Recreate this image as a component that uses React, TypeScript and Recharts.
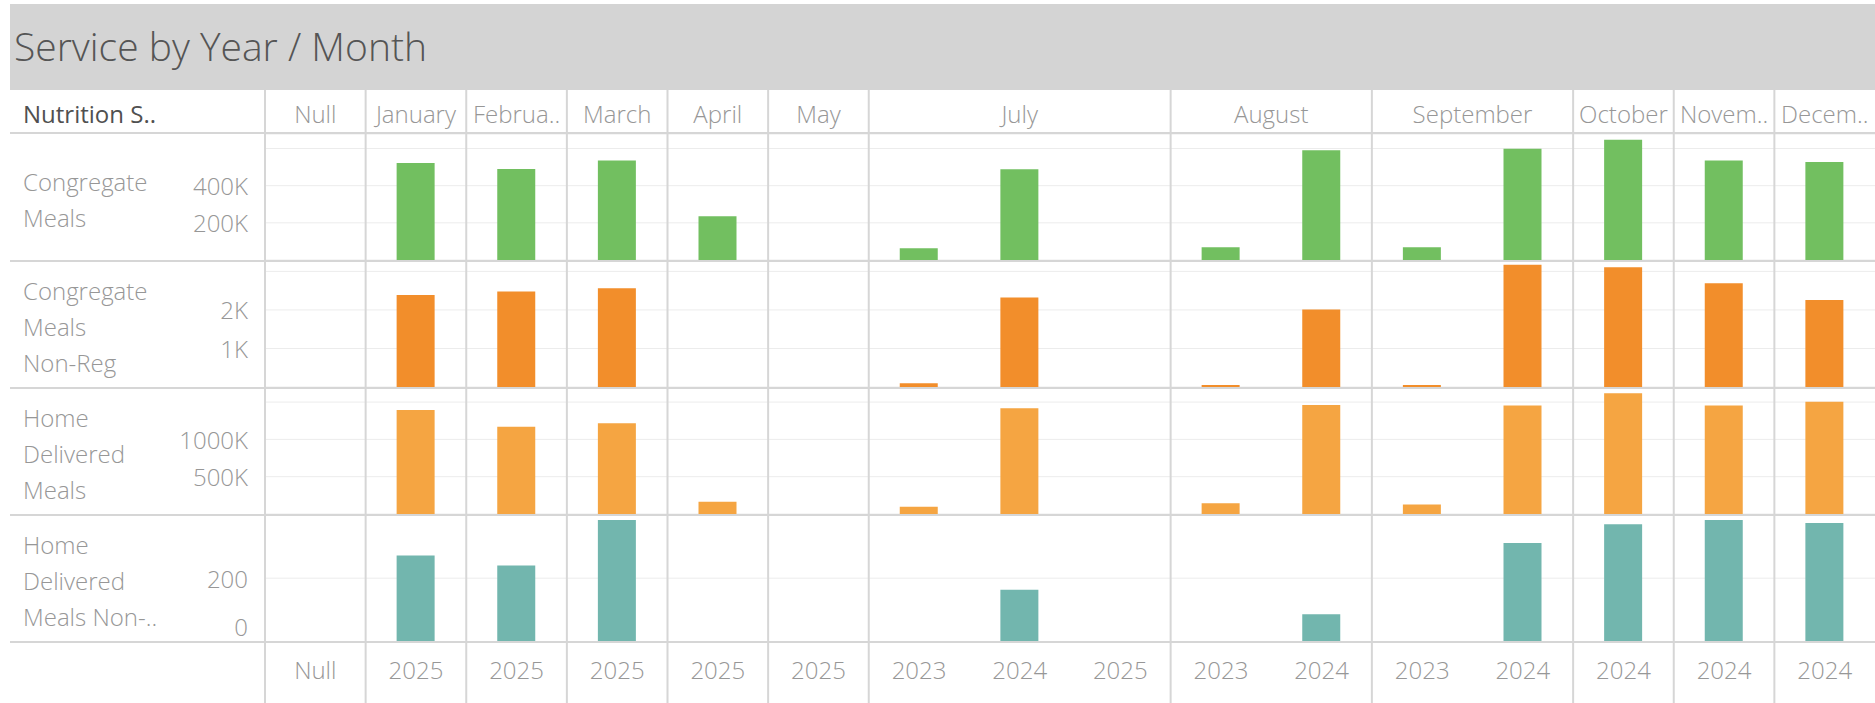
import React from "react";
import { BarChart, Bar, XAxis, YAxis, CartesianGrid } from "recharts";

// one entry per column (month / year)
const columnKeys = [
  "Null", "January 2025", "February 2025", "March 2025", "April 2025", "May 2025",
  "July 2023", "July 2024", "July 2025", "August 2023", "August 2024",
  "September 2023", "September 2024", "October 2024", "November 2024", "December 2024",
];
const yearLabels = [
  "Null", "2025", "2025", "2025", "2025", "2025", "2023", "2024", "2025",
  "2023", "2024", "2023", "2024", "2024", "2024", "2024",
];

// header groups
const monthLabels = ["Null", "January", "Februa..", "March", "April", "May", "July", "August", "September", "October", "Novem..", "Decem.."];
const monthSpans = [1, 1, 1, 1, 1, 1, 3, 2, 2, 1, 1, 1];

// series (null = no bar)
const congregateMeals = [null, 522000, 490000, 536000, 236000, null, 63000, 488000, null, 68000, 590000, 68000, 599000, 647000, 536000, 527000];
const congregateNonReg = [null, 2390, 2480, 2560, null, null, 95, 2320, null, 50, 2010, 50, 3170, 3110, 2690, 2260];
const homeDelivered = [null, 1394000, 1170000, 1216000, 165000, null, 98000, 1417000, null, 143000, 1461000, 126000, 1456000, 1617000, 1456000, 1504000];
const homeDeliveredNonReg = [null, 271, 240, 382, null, null, null, 164, null, null, 87, null, 310, 369, 382, 373];

// axis ticks and their labels
const congregateTicks = [0, 200000, 400000, 600000];
const congregateTickLabels = ["", "200K", "400K", ""];
const nonRegTicks = [0, 1000, 2000, 3000];
const nonRegTickLabels = ["", "1K", "2K", ""];
const homeTicks = [0, 500000, 1000000, 1500000];
const homeTickLabels = ["", "500K", "1000K", ""];
const homeNonRegTicks = [0, 200];
const homeNonRegTickLabels = ["0", "200"];

const data = columnKeys.map((key, i) => ({
  key,
  year: yearLabels[i],
  congregate: congregateMeals[i],
  congregateNonReg: congregateNonReg[i],
  home: homeDelivered[i],
  homeNonReg: homeDeliveredNonReg[i],
}));

const rows = [
  { name: ["Congregate", "Meals"], key: "congregate", color: "#72bf60", max: 678000, ticks: congregateTicks, labels: congregateTickLabels },
  { name: ["Congregate", "Meals", "Non-Reg"], key: "congregateNonReg", color: "#f28e2b", max: 3270, ticks: nonRegTicks, labels: nonRegTickLabels },
  { name: ["Home", "Delivered", "Meals"], key: "home", color: "#f5a542", max: 1689000, ticks: homeTicks, labels: homeTickLabels },
  { name: ["Home", "Delivered", "Meals Non-.."], key: "homeNonReg", color: "#72b6ae", max: 398, ticks: homeNonRegTicks, labels: homeNonRegTickLabels },
];

const W = 1875;
const H = 703;
const FONT = "'Open Sans', sans-serif";
const AXIS_W = 265;
const COL_W = (W - AXIS_W) / columnKeys.length;
const HEADER_LINE = 133;
const ROW_TOP = 134;
const ROW_H = 127;
const TEXT = "#979797";
const RULE = "#d6d6d6";

function makeTick(ticks: number[], labels: string[]) {
  return (props: any) => {
    const { x, y, payload } = props;
    const label = labels[ticks.indexOf(payload.value)];
    if (!label) return <g />;
    // Tableau pushes the bottom edge label inside the pane
    const lift = payload.value === 0 ? -16 : 0;
    return (
      <text x={x} y={y + lift} textAnchor="end" dominantBaseline="central" fill={TEXT} fontSize={24} fontWeight={300} fontFamily={FONT}>
        {label}
      </text>
    );
  };
}

export default function App() {
  // column boundaries where the month changes
  const bounds: number[] = [0];
  monthSpans.reduce((acc, s) => {
    bounds.push(acc + s);
    return acc + s;
  }, 0);

  return (
    <div style={{ position: "absolute", left: 0, top: 0, width: W, height: H, background: "#fff", overflow: "hidden" }}>
      {rows.map((r, i) => {
        const last = i === rows.length - 1;
        return (
          <div key={r.key} style={{ position: "absolute", left: 0, top: ROW_TOP + i * ROW_H }}>
            <BarChart
              width={W}
              height={last ? ROW_H + 62 : ROW_H}
              data={data}
              margin={{ top: 0, right: 0, bottom: last ? 0 : 1, left: 0 }}
              barSize={38}
            >
              <CartesianGrid vertical={false} stroke="#ececec" />
              <XAxis
                dataKey="key"
                hide={!last}
                height={last ? 62 : 0}
                interval={0}
                axisLine={false}
                tickLine={false}
                tickSize={0}
                tickMargin={20}
                tickFormatter={(_v: any, idx: number) => yearLabels[idx]}
                tick={{ fill: TEXT, fontSize: 24, fontWeight: 300, fontFamily: FONT }}
              />
              <YAxis
                type="number"
                width={AXIS_W}
                domain={[0, r.max]}
                ticks={r.ticks}
                axisLine={false}
                tickLine={false}
                tickSize={0}
                tickMargin={17}
                tick={makeTick(r.ticks, r.labels)}
              />
              <Bar dataKey={r.key} fill={r.color} isAnimationActive={false} />
            </BarChart>
          </div>
        );
      })}

      <svg width={W} height={H} style={{ position: "absolute", left: 0, top: 0, pointerEvents: "none" }}>
        <rect x={10} y={4} width={W - 10} height={86} fill="#d4d4d4" />
        <text x={14} y={61} fontSize={39} fontWeight={300} fill="#555" fontFamily={FONT}>
          Service by Year / Month
        </text>

        <text x={23} y={113} fontSize={24} fontWeight={500} fill="#505050" fontFamily={FONT} dominantBaseline="central">
          Nutrition S..
        </text>
        {monthLabels.map((m, i) => (
          <text
            key={m}
            x={AXIS_W + (bounds[i] + monthSpans[i] / 2) * COL_W}
            y={113}
            fontSize={24}
            fontWeight={300}
            fill={TEXT}
            fontFamily={FONT}
            textAnchor="middle"
            dominantBaseline="central"
          >
            {m}
          </text>
        ))}

        {rows.map((r, i) => {
          const mid = ROW_TOP + i * ROW_H + ROW_H / 2 + 2;
          return r.name.map((line, j) => (
            <text
              key={r.key + j}
              x={23}
              y={mid + (j - (r.name.length - 1) / 2) * 36}
              fontSize={24}
              fontWeight={300}
              fill={TEXT}
              fontFamily={FONT}
              dominantBaseline="central"
            >
              {line}
            </text>
          ));
        })}

        <line x1={10} x2={W} y1={HEADER_LINE} y2={HEADER_LINE} stroke={RULE} strokeWidth={2} />
        {rows.map((r, i) => {
          const y = ROW_TOP + (i + 1) * ROW_H;
          return <line key={"h" + r.key} x1={10} x2={W} y1={y} y2={y} stroke={RULE} strokeWidth={2} />;
        })}
        {bounds.slice(0, -1).map((b) => (
          <line key={"v" + b} x1={AXIS_W + b * COL_W} x2={AXIS_W + b * COL_W} y1={90} y2={H} stroke={RULE} strokeWidth={2} />
        ))}
      </svg>
    </div>
  );
}
